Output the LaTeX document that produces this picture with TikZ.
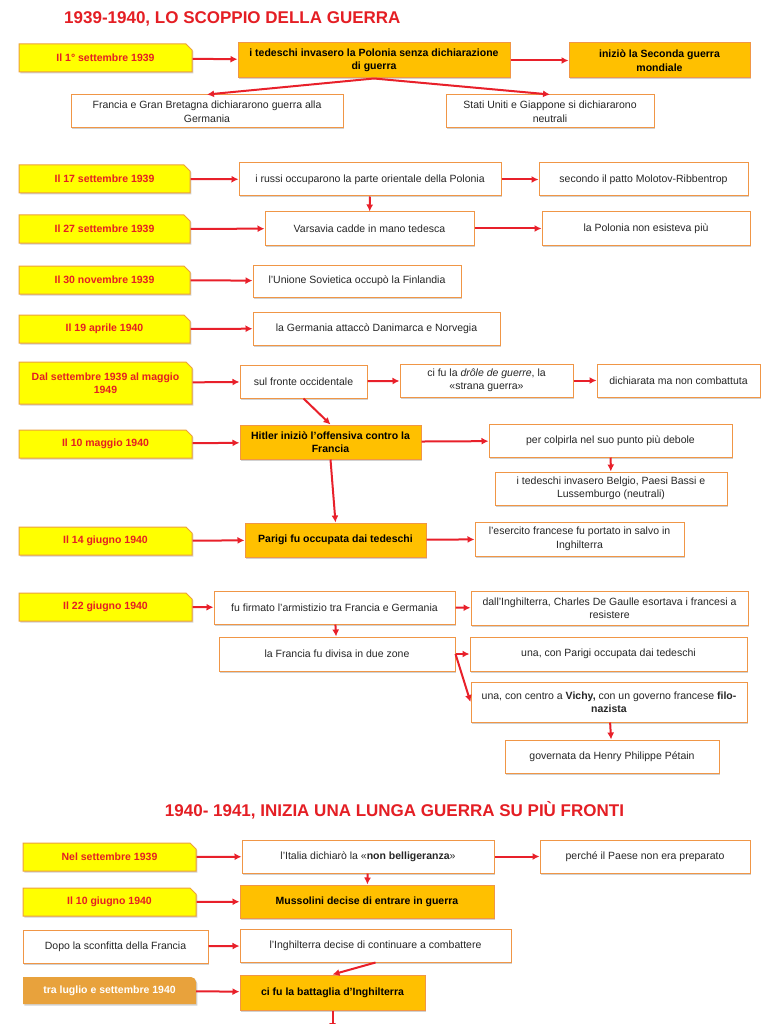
\documentclass[tikz,border=0pt]{standalone}
\usepackage{fontspec}
\setmainfont{Liberation Sans}
\usepackage{xcolor}
\usetikzlibrary{shapes.misc,arrows.meta,shadows}

\definecolor{dateyellow}{RGB}{255,255,0}
\definecolor{dateline}{RGB}{236,160,60}
\definecolor{datered}{RGB}{228,30,36}
\definecolor{keyorange}{RGB}{255,192,0}
\definecolor{boxline}{RGB}{240,150,70}
\definecolor{linkred}{RGB}{232,32,42}
\definecolor{lateorange}{RGB}{232,162,60}

\begin{document}
\begin{tikzpicture}[x=1pt, y=-1pt,
  every node/.style={font=\fontsize{10.5}{13.5}\selectfont, align=center, inner sep=1pt},
  dims/.style 2 args={minimum width=#1, minimum height=#2},
  boxshadow/.style={drop shadow={shadow xshift=1.3pt, shadow yshift=-1.5pt, opacity=0.3, fill=black!60}},
  datebox/.style={chamfered rectangle, chamfered rectangle corners=north east,
    chamfered rectangle xsep=3pt, chamfered rectangle ysep=3pt,
    draw=dateline, line width=1pt, fill=dateyellow, text=datered,
    font=\fontsize{10.5}{13.5}\selectfont\bfseries, boxshadow},
  keybox/.style={rectangle, draw=boxline, line width=1pt, fill=keyorange,
    font=\fontsize{10.5}{13.5}\selectfont\bfseries, boxshadow},
  notebox/.style={rectangle, draw=boxline, line width=1pt, fill=white, text=black!85, boxshadow},
  latebox/.style={rectangle, text=white, font=\fontsize{10.5}{13.5}\selectfont\bfseries},
  heading/.style={font=\fontsize{17}{20}\selectfont\bfseries, text=datered},
  link/.style={draw=linkred, line width=2pt, -{Latex[length=7pt,width=7pt]}}]

  \useasboundingbox (0,0) rectangle (768,1024);

  % 1939-1940
  \node[heading, anchor=west] (title1) at (63,19) {1939-1940, LO SCOPPIO DELLA GUERRA};

  % 1 settembre 1939
  \node[datebox, dims={173}{28}] (d1) at (105.5,58) {Il 1° settembre 1939};
  \node[keybox, dims={272}{35}] (poland) at (374,60.5) {i tedeschi invasero la Polonia senza dichiarazione\\di guerra};
  \node[keybox, dims={181}{35}] (war) at (659.5,60.5) {iniziò la Seconda guerra\\mondiale};
  \node[notebox, dims={272}{33}] (allies) at (207,111.5) {Francia e Gran Bretagna dichiararono guerra alla\\Germania};
  \node[notebox, dims={208}{33}] (neutral) at (550,111.5) {Stati Uniti e Giappone si dichiararono\\neutrali};
  \draw[link] (d1) -- (poland);
  \draw[link] (poland) -- (war);
  \draw[link] (poland.south) -- (allies.north);
  \draw[link] (poland.south) -- (neutral.north);

  % 17 and 27 settembre 1939
  \node[datebox, dims={171}{28}] (d2) at (104.5,179) {Il 17 settembre 1939};
  \node[notebox, dims={262}{33}] (russians) at (370,179.5) {i russi occuparono la parte orientale della Polonia};
  \node[notebox, dims={209}{33}] (pact) at (643.5,179.5) {secondo il patto Molotov-Ribbentrop};
  \node[datebox, dims={171}{28}] (d3) at (104.5,229) {Il 27 settembre 1939};
  \node[notebox, dims={209}{33}] (warsaw) at (369.5,228.5) {Varsavia cadde in mano tedesca};
  \node[notebox, dims={208}{33}] (gone) at (646,228.5) {la Polonia non esisteva più};
  \draw[link] (d2) -- (russians);
  \draw[link] (russians) -- (pact);
  \draw[link] (russians) -- (warsaw);
  \draw[link] (d3) -- (warsaw);
  \draw[link] (warsaw) -- (gone);

  % Finlandia, Danimarca e Norvegia
  \node[datebox, dims={171}{28}] (d4) at (104.5,280) {Il 30 novembre 1939};
  \node[notebox, dims={208}{32}] (finland) at (357,281) {l'Unione Sovietica occupò la Finlandia};
  \node[datebox, dims={171}{28}] (d5) at (104.5,329) {Il 19 aprile 1940};
  \node[notebox, dims={247}{33}] (norway) at (376.5,328.5) {la Germania attaccò Danimarca e Norvegia};
  \draw[link] (d4) -- (finland);
  \draw[link] (d5) -- (norway);

  % fronte occidentale
  \node[datebox, dims={173}{42}] (d6) at (105.5,383) {Dal settembre 1939 al maggio\\1949};
  \node[notebox, dims={127}{33}] (west) at (303.5,381.5) {sul fronte occidentale};
  \node[notebox, dims={173}{33}] (drole) at (486.5,380.5) {ci fu la \textit{drôle de guerre}, la\\«strana guerra»};
  \node[notebox, dims={163}{33}] (phony) at (678.5,380.5) {dichiarata ma non combattuta};
  \draw[link] (d6) -- (west);
  \draw[link] (west) -- (drole);
  \draw[link] (drole) -- (phony);

  % 10 maggio 1940
  \node[datebox, dims={173}{28}] (d7) at (105.5,444) {Il 10 maggio 1940};
  \node[keybox, dims={181}{34}] (hitler) at (330.5,442) {Hitler iniziò l'offensiva contro la\\Francia};
  \node[notebox, dims={243}{33}] (weak) at (610.5,440.5) {per colpirla nel suo punto più debole};
  \node[notebox, dims={232}{33}] (benelux) at (611,488.5) {i tedeschi invasero Belgio, Paesi Bassi e\\Lussemburgo (neutrali)};
  \draw[link] (west.south) -- (hitler.north);
  \draw[link] (d7) -- (hitler);
  \draw[link] (hitler) -- (weak);
  \draw[link] (weak) -- (benelux);

  % 14 giugno 1940
  \node[datebox, dims={173}{28}] (d8) at (105.5,541) {Il 14 giugno 1940};
  \node[keybox, dims={181}{34}] (paris) at (335.5,540) {Parigi fu occupata dai tedeschi};
  \node[notebox, dims={209}{34}] (army) at (579.5,539) {l'esercito francese fu portato in salvo in\\Inghilterra};
  \draw[link] (hitler.south) -- (paris.north);
  \draw[link] (d8) -- (paris);
  \draw[link] (paris) -- (army);

  % 22 giugno 1940
  \node[datebox, dims={173}{28}] (d9) at (105.5,607) {Il 22 giugno 1940};
  \node[notebox, dims={241}{33}] (truce) at (334.5,607.5) {fu firmato l'armistizio tra Francia e Germania};
  \node[notebox, dims={277}{34}] (gaulle) at (609.5,608) {dall'Inghilterra, Charles De Gaulle esortava i francesi a\\resistere};
  \node[notebox, dims={236}{34}] (split) at (337,654) {la Francia fu divisa in due zone};
  \node[notebox, dims={277}{34}] (north) at (608.5,654) {una, con Parigi occupata dai tedeschi};
  \node[notebox, dims={276}{40}] (vichy) at (609,702) {una, con centro a \textbf{Vichy,} con un governo francese \textbf{filo-}\\\textbf{nazista}};
  \node[notebox, dims={214}{33}] (petain) at (612,756.5) {governata da Henry Philippe Pétain};
  \draw[link] (d9) -- (truce);
  \draw[link] (truce) -- (gaulle);
  \draw[link] (truce) -- (split);
  \draw[link] (split.east) -- (north.west);
  \draw[link] (split.east) -- (vichy.west);
  \draw[link] (vichy) -- (petain);

  % 1940-1941
  \node[heading] (title2) at (394.5,810) {1940- 1941, INIZIA UNA LUNGA GUERRA SU PIÙ FRONTI};

  % Italia
  \node[datebox, dims={173}{28}] (d10) at (109.5,857) {Nel settembre 1939};
  \node[notebox, dims={252}{33}] (italy) at (368,856.5) {l'Italia dichiarò la «\textbf{non belligeranza}»};
  \node[notebox, dims={210}{33}] (unready) at (645,856.5) {perché il Paese non era preparato};
  \node[datebox, dims={173}{28}] (d11) at (109.5,902) {Il 10 giugno 1940};
  \node[keybox, dims={254}{33}] (duce) at (367,901.5) {Mussolini decise di entrare in guerra};
  \draw[link] (d10) -- (italy);
  \draw[link] (italy) -- (unready);
  \draw[link] (italy) -- (duce);
  \draw[link] (d11) -- (duce);

  % Inghilterra
  \node[notebox, dims={185}{33}] (defeat) at (115.5,946.5) {Dopo la sconfitta della Francia};
  \node[notebox, dims={271}{33}] (england) at (375.5,945.5) {l'Inghilterra decise di continuare a combattere};
  \fill[black!60, opacity=0.3] (24.3,978.5) -- (24.3,1005.5) -- (197.3,1005.5) -- (197.3,983.5) arc (0:-90:5) -- cycle;
  \fill[lateorange] (23,977) -- (23,1004) -- (196,1004) -- (196,982) arc (0:-90:5) -- cycle;
  \node[latebox, dims={173}{27}] (d13) at (109.5,990.5) {tra luglio e settembre 1940};
  \node[keybox, dims={185}{35}] (battle) at (332.5,992.5) {ci fu la battaglia d'Inghilterra};
  \coordinate (more) at (332.5,1030);
  \draw[link] (defeat) -- (england);
  \draw[link] (england.south) -- (battle.north);
  \draw[link] (d13) -- (battle);
  \draw[link] (battle) -- (more);
\end{tikzpicture}
\end{document}
